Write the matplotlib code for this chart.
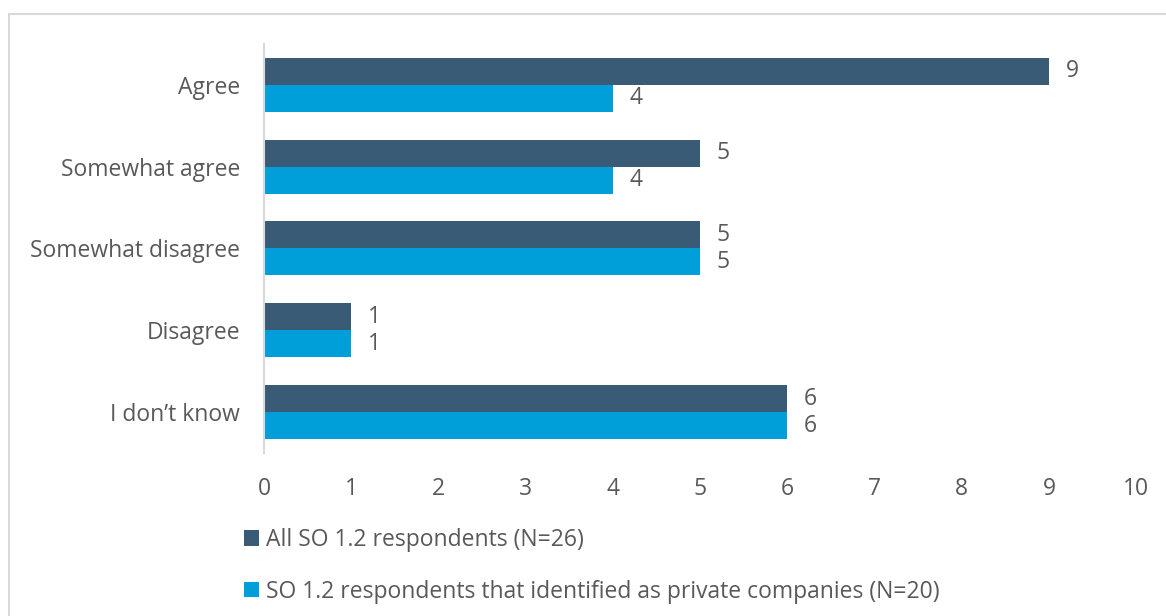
import matplotlib.pyplot as plt
from matplotlib.patches import Rectangle, Patch
import numpy as np

plt.rcParams['font.family'] = ['Open Sans', 'DejaVu Sans']

categories = ['Agree', 'Somewhat agree', 'Somewhat disagree', 'Disagree', 'I don\u2019t know']
all_resp = [9, 5, 5, 1, 6]
private_resp = [4, 4, 5, 1, 6]
series_names = ['All SO 1.2 respondents (N=26)',
                'SO 1.2 respondents that identified as private companies (N=20)']
colors = ['#3a5b75', '#009fda']
text_col = '#595959'
fs = 16.5

fig = plt.figure(figsize=(11.66, 6.16), dpi=100)
ax = fig.add_axes([0.2264, 0.2646, 0.748, 0.664])

# outer frame around the chart area
fig.patches.append(Rectangle((9 / 1166, -0.05), 1.2, 1 - 14 / 616 + 0.05,
                             transform=fig.transFigure, fill=False,
                             edgecolor='#d9d9d9', lw=1.5))

y = np.arange(len(categories))
h = 0.33
b1 = ax.barh(y - h / 2, all_resp, height=h, color=colors[0])
b2 = ax.barh(y + h / 2, private_resp, height=h, color=colors[1])

for bars, vals in ((b1, all_resp), (b2, private_resp)):
    for bar, v in zip(bars, vals):
        ax.annotate(str(v), (v, bar.get_y() + bar.get_height() / 2),
                    xytext=(12, 0), textcoords='offset points',
                    va='center', ha='left', fontsize=fs, color=text_col)

ax.set_ylim(len(categories) - 0.5, -0.5)
ax.set_xlim(0, 10)
ax.set_xticks(range(11))
ax.set_yticks(y)
ax.set_yticklabels(categories)
ax.tick_params(axis='both', length=0, labelsize=fs, colors=text_col)
ax.tick_params(axis='x', pad=17)
ax.tick_params(axis='y', pad=17)
for s in ('top', 'right', 'bottom'):
    ax.spines[s].set_visible(False)
ax.spines['left'].set_color('#d9d9d9')
ax.spines['left'].set_linewidth(1.5)

handles = [Patch(facecolor=c) for c in colors]
fig.legend(handles, series_names, loc='upper left',
           bbox_to_anchor=(244 / 1166, 1 - 528 / 616), frameon=False,
           fontsize=fs, labelcolor=text_col, handlelength=0.65,
           handleheight=0.65, handletextpad=0.3, labelspacing=1.2,
           borderaxespad=0, borderpad=0)

fig.savefig('out.png', dpi=100)
